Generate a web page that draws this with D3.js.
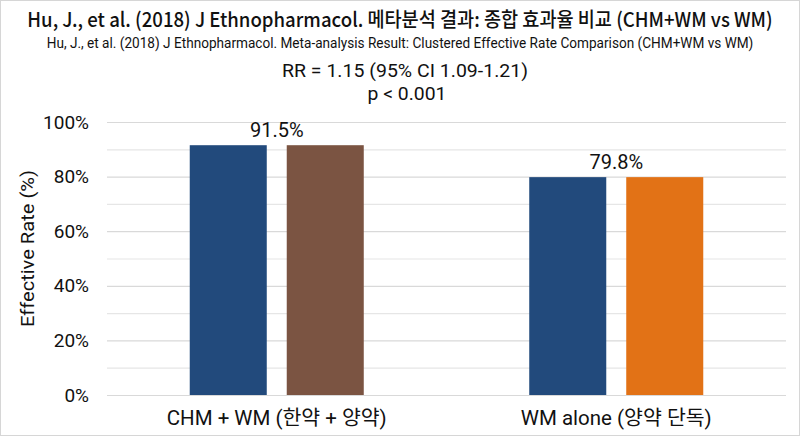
<head>
  <meta charset="UTF-8"/>
  <title>Effective rate comparison</title>
</head>
<body>
<script src="https://cdn.jsdelivr.net/npm/d3@7"></script>
<style>
  body { margin: 0; background: #fff; }
  svg { display: block; }
  text { font-family: Roboto, 'Noto Sans CJK KR', sans-serif; fill: #111; }
  text.head { font-family: 'Noto Sans CJK KR', 'Noto Sans', sans-serif; }
  .grid line { stroke: #d9d9d9; stroke-width: 1.2; }
  .grid line.minor { stroke: #e6e6e6; }
  .grid path { stroke-width: 0; }
</style>
<div id="container"><svg></svg></div>
<script>
const categories = ['CHM + WM (한약 + 양약)', 'WM alone (양약 단독)'];
const seriesNames = ['main', 'accent'];
const mainValues = [91.5, 79.8];
const accentValues = [91.5, 79.8];
const valueLabels = ['91.5%', '79.8%'];
const yTicks = [0, 20, 40, 60, 80, 100];
const gridTicks = [0, 10, 20, 30, 40, 50, 60, 70, 80, 90, 100];

const mainColor = '#224a7c';
const accentColors = ['#7b5442', '#e27216'];

const W = 800, H = 436;
const plotLeft = 107, plotRight = 786, plotTop = 122, plotBottom = 395;

const svg = d3.select('svg').attr('width', W).attr('height', H);

svg.append('rect')
   .attr('x', 0.5).attr('y', 0.5)
   .attr('width', W - 1).attr('height', H - 1)
   .attr('fill', '#fff').attr('stroke', '#d6d6d6');

const x = d3.scaleBand().domain(categories).range([plotLeft, plotRight]);
const xi = d3.scaleBand().domain(seriesNames).range([0, x.bandwidth()])
   .paddingInner(0.206).paddingOuter(0.853);
const y = d3.scaleLinear().domain([0, 100]).range([plotBottom, plotTop]);

// gridlines
svg.append('g')
   .attr('class', 'grid')
   .attr('transform', `translate(${plotLeft},0)`)
   .call(d3.axisLeft(y).tickValues(gridTicks).tickSize(-(plotRight - plotLeft)).tickFormat(''))
   .selectAll('.tick line')
   .attr('class', d => d % 20 ? 'minor' : null);

// y tick labels
svg.append('g')
   .selectAll('text')
   .data(yTicks)
   .enter()
   .append('text')
   .attr('x', 89)
   .attr('y', d => y(d))
   .attr('dy', '0.35em')
   .attr('text-anchor', 'end')
   .attr('font-size', '19px')
   .text(d => `${d}%`);

// bars
const rows = categories.map((c, i) => ({
  cat: c, i,
  bars: [
    { s: 'main', v: mainValues[i], color: mainColor },
    { s: 'accent', v: accentValues[i], color: accentColors[i] }
  ]
}));

const groups = svg.selectAll('g.group')
   .data(rows)
   .enter()
   .append('g')
   .attr('class', 'group')
   .attr('transform', d => `translate(${x(d.cat)},0)`);

groups.selectAll('rect')
   .data(d => d.bars)
   .enter()
   .append('rect')
   .attr('x', d => xi(d.s))
   .attr('y', d => y(d.v))
   .attr('width', xi.bandwidth())
   .attr('height', d => y(0) - y(d.v))
   .attr('fill', d => d.color);

groups.append('text')
   .attr('x', x.bandwidth() / 2)
   .attr('y', d => y(Math.max(mainValues[d.i], accentValues[d.i])) - 8)
   .attr('text-anchor', 'middle')
   .attr('font-size', '20px')
   .text(d => valueLabels[d.i]);

// category labels
const catWidths = [220, 191];
svg.append('g')
   .selectAll('text')
   .data(categories)
   .enter()
   .append('text')
   .attr('x', d => x(d) + x.bandwidth() / 2)
   .attr('y', 425)
   .attr('text-anchor', 'middle')
   .attr('font-size', '20px')
   .attr('textLength', (d, i) => catWidths[i])
   .attr('lengthAdjust', 'spacingAndGlyphs')
   .text(d => d);

// y axis title
svg.append('text')
   .attr('transform', `translate(34, ${(plotTop + plotBottom) / 2 - 10}) rotate(-90)`)
   .attr('text-anchor', 'middle')
   .attr('font-size', '19px')
   .attr('textLength', 157).attr('lengthAdjust', 'spacingAndGlyphs')
   .text('Effective Rate (%)');

// header lines, squeezed horizontally to the reference widths
function fitLine(txt, cx, cy, size, w, cls, weight) {
  const t = svg.append('text')
     .attr('class', cls)
     .attr('text-anchor', 'middle')
     .attr('font-size', size + 'px')
     .attr('font-weight', weight || 400)
     .text(txt);
  const len = t.node().getComputedTextLength();
  t.attr('transform', `translate(${cx},${cy}) scale(${w / len},1)`);
  return t;
}

fitLine('Hu, J., et al. (2018) J Ethnopharmacol. 메타분석 결과: 종합 효과율 비교 (CHM+WM vs WM)',
        400, 27, 20, 746, 'head', 500);
fitLine('Hu, J., et al. (2018) J Ethnopharmacol. Meta-analysis Result: Clustered Effective Rate Comparison (CHM+WM vs WM)',
        400, 48, 14, 707, 'sub');
fitLine('RR = 1.15 (95% CI 1.09-1.21)', 405, 77, 19, 246, 'rr');
fitLine('p < 0.001', 407, 100, 19, 79, 'rr');
</script>
</body>
